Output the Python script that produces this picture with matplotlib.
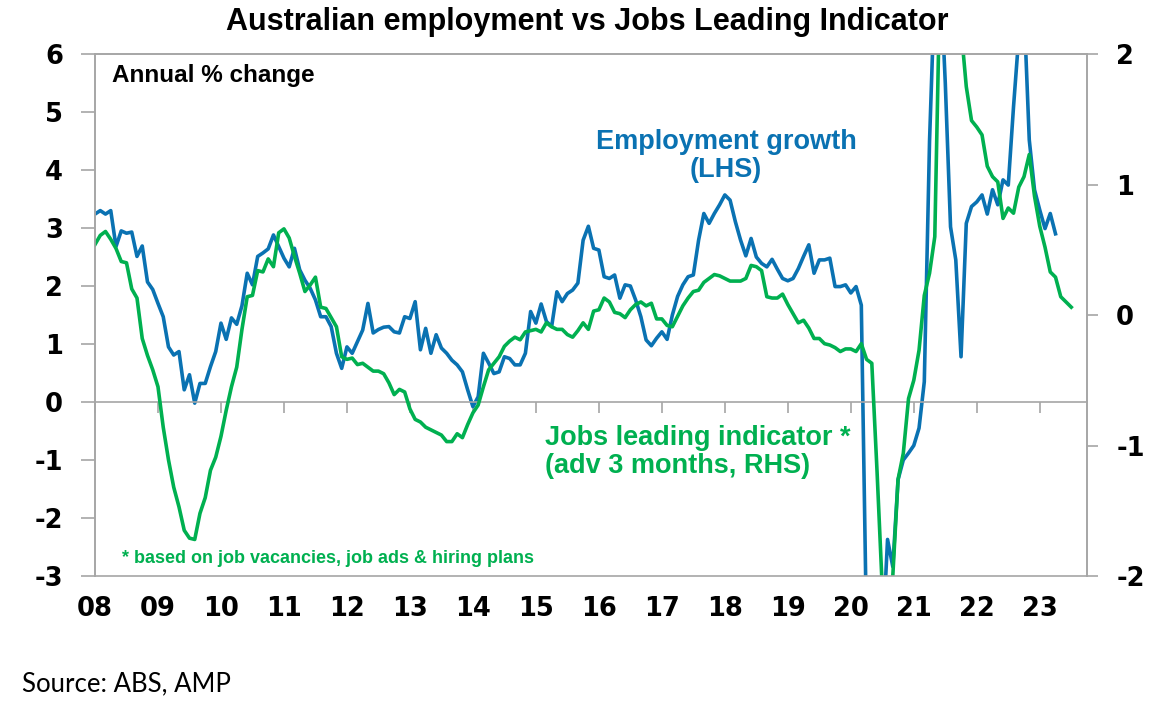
import numpy as np
import matplotlib
matplotlib.use("Agg")
import matplotlib.pyplot as plt

# monthly data, Jan 2008 onwards
start_year = 2008
employment = [
    3.24, 3.30, 3.24, 3.30, 2.68, 2.95, 2.91, 2.93, 2.51, 2.69, 2.07, 1.94,   # 2008
    1.70, 1.47, 0.95, 0.81, 0.87, 0.21, 0.47, -0.02, 0.32, 0.32, 0.61, 0.87,  # 2009
    1.36, 1.08, 1.45, 1.34, 1.66, 2.22, 2.02, 2.51, 2.57, 2.64, 2.88, 2.68,   # 2010
    2.48, 2.33, 2.65, 2.28, 2.10, 1.96, 1.76, 1.47, 1.47, 1.30, 0.84, 0.58,   # 2011
    0.95, 0.84, 1.04, 1.24, 1.70, 1.19, 1.25, 1.29, 1.30, 1.21, 1.19, 1.47,   # 2012
    1.44, 1.73, 0.90, 1.27, 0.84, 1.16, 0.93, 0.84, 0.72, 0.64, 0.52, 0.21,   # 2013
    -0.08, 0.09, 0.84, 0.67, 0.49, 0.52, 0.78, 0.75, 0.64, 0.64, 0.84, 1.56,  # 2014
    1.36, 1.69, 1.39, 1.30, 1.90, 1.73, 1.87, 1.93, 2.05, 2.79, 3.03, 2.65,   # 2015
    2.62, 2.16, 2.13, 2.19, 1.79, 2.02, 2.00, 1.76, 1.47, 1.07, 0.97, 1.10,   # 2016
    1.21, 1.08, 1.50, 1.82, 2.02, 2.16, 2.19, 2.79, 3.25, 3.08, 3.25, 3.40,   # 2017
    3.57, 3.48, 3.11, 2.79, 2.52, 2.82, 2.50, 2.39, 2.33, 2.46, 2.29, 2.13,   # 2018
    2.09, 2.13, 2.30, 2.51, 2.71, 2.22, 2.45, 2.45, 2.48, 1.99, 1.99, 2.02,   # 2019
    1.88, 1.99, 1.67, -4.0, -5.6, -5.3, -4.2, -2.37, -2.84, -1.34, -1.0, -0.88,  # 2020
    -0.75, -0.45, 0.35, 4.5, 7.2, 7.5, 5.5, 3.02, 2.45, 0.78, 3.08, 3.37,     # 2021
    3.45, 3.57, 3.24, 3.66, 3.40, 3.83, 3.74, 5.09, 6.3, 6.8, 4.52, 3.66,     # 2022
    3.31, 2.99, 3.25, 2.90,                                                   # 2023
]
jobs_indicator = [
    0.54, 0.61, 0.64, 0.58, 0.51, 0.41, 0.40, 0.20, 0.13, -0.18, -0.31, -0.42,        # 2008
    -0.55, -0.86, -1.11, -1.32, -1.47, -1.65, -1.71, -1.72, -1.52, -1.40, -1.19, -1.09,  # 2009
    -0.93, -0.73, -0.55, -0.40, -0.11, 0.14, 0.15, 0.34, 0.33, 0.43, 0.37, 0.63,      # 2010
    0.66, 0.59, 0.45, 0.32, 0.18, 0.23, 0.29, 0.06, 0.05, -0.02, -0.09, -0.32,        # 2011
    -0.34, -0.33, -0.38, -0.37, -0.40, -0.43, -0.43, -0.45, -0.52, -0.61, -0.57, -0.59,  # 2012
    -0.72, -0.80, -0.82, -0.86, -0.88, -0.90, -0.92, -0.97, -0.97, -0.91, -0.94, -0.84,  # 2013
    -0.75, -0.69, -0.55, -0.42, -0.37, -0.32, -0.24, -0.20, -0.17, -0.19, -0.13, -0.12,  # 2014
    -0.11, -0.13, -0.06, -0.09, -0.11, -0.11, -0.15, -0.17, -0.12, -0.06, -0.11, 0.03,   # 2015
    0.04, 0.13, 0.10, 0.02, 0.01, -0.02, 0.04, 0.08, 0.10, 0.07, 0.09, -0.03,         # 2016
    -0.03, -0.08, -0.09, -0.01, 0.07, 0.13, 0.18, 0.19, 0.25, 0.28, 0.31, 0.30,       # 2017
    0.28, 0.26, 0.26, 0.26, 0.28, 0.38, 0.37, 0.34, 0.14, 0.13, 0.13, 0.16,           # 2018
    0.08, 0.01, -0.06, -0.04, -0.10, -0.18, -0.18, -0.22, -0.23, -0.25, -0.28, -0.26,  # 2019
    -0.26, -0.28, -0.22, -0.34, -0.37, -1.2, -2.1, -2.6, -2.0, -1.26, -1.06, -0.64,   # 2020
    -0.50, -0.27, 0.15, 0.32, 0.60, 2.6, 3.2, 3.0, 2.7, 2.2, 1.75, 1.49,              # 2021
    1.44, 1.38, 1.14, 1.06, 1.02, 0.74, 0.82, 0.78, 0.98, 1.06, 1.23, 0.91,           # 2022
    0.68, 0.52, 0.33, 0.29, 0.14, 0.10, 0.06,                                         # 2023
]
year_ticks = list(range(2008, 2024))
year_labels = [f"{y % 100:02d}" for y in year_ticks]

BLUE = "#0A72B2"
GREEN = "#00B050"
GREY = "#A6A6A6"

plt.rcParams["font.family"] = ["Liberation Sans", "DejaVu Sans"]
plt.rcParams["font.weight"] = "bold"
plt.rcParams["axes.unicode_minus"] = False

t_emp = start_year + np.arange(len(employment)) / 12
t_jobs = start_year + np.arange(len(jobs_indicator)) / 12

fig = plt.figure(figsize=(11.75, 7.07), dpi=100)
ax = fig.add_axes([95 / 1175, 1 - 576 / 707, (1087 - 95) / 1175, (576 - 54) / 707])
ax2 = ax.twinx()

ax.plot(t_emp, employment, color=BLUE, lw=2.6, solid_joinstyle="round")
ax2.plot(t_jobs, jobs_indicator, color=GREEN, lw=2.6, solid_joinstyle="round")

ax.set_xlim(2008, 2023.75)
ax.set_ylim(-3, 6)
ax2.set_ylim(-2, 2)
ax.set_yticks(range(-3, 7))
ax2.set_yticks(range(-2, 3))
ax.set_xticks(year_ticks)
ax.set_xticklabels(year_labels)

# x axis sits on the zero line, labels pushed down below the frame
ax.spines["bottom"].set_position(("data", 0))
for a in (ax, ax2):
    for s in a.spines.values():
        s.set_color(GREY)
        s.set_linewidth(1.2)

tick_font = dict(family="DejaVu Sans", weight="bold", size=18.5)
ax.tick_params(axis="x", direction="out", length=8, width=1.2, color=GREY, pad=132)
ax.tick_params(axis="y", direction="out", length=10, width=1.2, color=GREY, pad=13)
ax2.tick_params(axis="y", direction="out", length=8, width=1.2, color=GREY, pad=13)
for lbl in ax.get_xticklabels() + ax.get_yticklabels() + ax2.get_yticklabels():
    lbl.set_fontproperties(tick_font)

fig.text(0.5, 1 - 22 / 707, "Australian employment vs Jobs Leading Indicator",
         ha="center", va="center", fontsize=22)
ax.text(0.017, 0.958, "Annual % change", transform=ax.transAxes,
        ha="left", va="center", fontsize=17.5)
ax.text(2018.02, 4.24, "Employment growth\n(LHS)", color=BLUE,
        ha="center", va="center", fontsize=19.5, linespacing=1.12)
ax.text(2015.14, -0.87, "Jobs leading indicator *\n(adv 3 months, RHS)", color=GREEN,
        ha="left", va="center", fontsize=19.5, linespacing=1.1)
ax.text(0.027, 0.034, "* based on job vacancies, job ads & hiring plans",
        transform=ax.transAxes, color=GREEN, ha="left", va="center", fontsize=13)
fig.text(22 / 1175, 1 - 684 / 707, "Source: ABS, AMP", ha="left", va="center",
         fontsize=18.5, fontweight="normal", family="Lato")

fig.savefig("out.png", dpi=100)
